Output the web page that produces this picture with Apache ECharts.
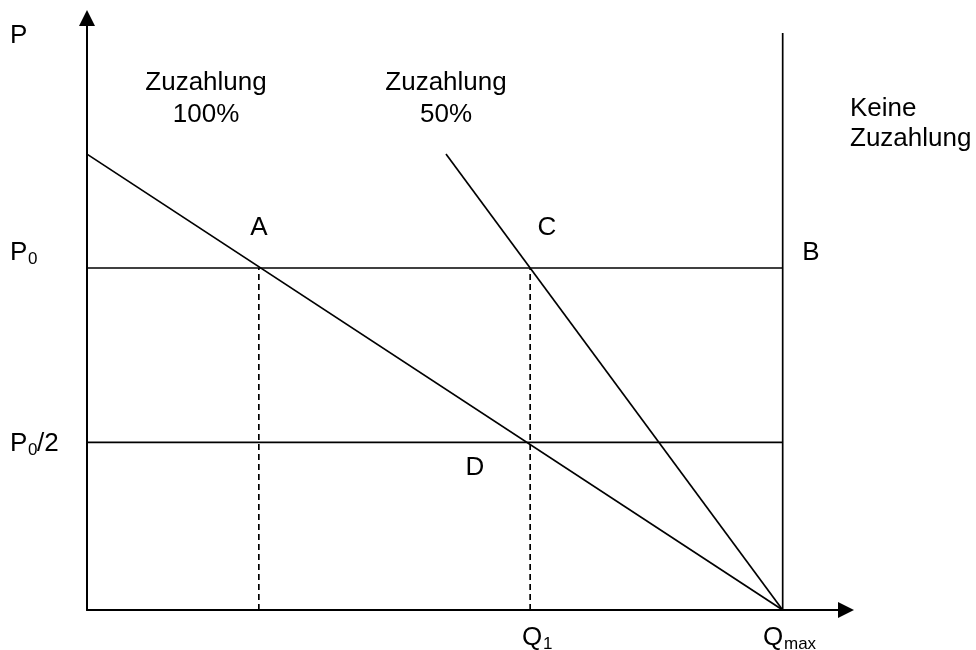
<!DOCTYPE html>
<html>
<head>
<meta charset="utf-8">
<title>Zuzahlung</title>
<script src="https://cdn.jsdelivr.net/npm/echarts@6/dist/echarts.min.js"></script>
<style>
  html, body { margin: 0; padding: 0; background: #fff; }
  #chart { width: 976px; height: 650px; }
</style>
</head>
<body>
<div id="chart"></div>
<script>
// Werte (Q in % von Qmax, P in % von P0)
const qA = 24.7;
const q1 = 63.7;
const qMax = 100;
const p0 = 100;
const pHalf = 49;
const pTop = 133.3;
const qStart50 = 51.6;
const pVertTop = 168.7;

const demand100 = [[0, pTop], [qMax, 0]];
const demand50 = [[qStart50, pTop], [qMax, 0]];
const keineZuzahlung = [[qMax, 0], [qMax, pVertTop]];
const lineP0 = [[0, p0], [qMax, p0]];
const lineHalf = [[0, pHalf], [qMax, pHalf]];
const dashA = [[qA, 0], [qA, p0]];
const dashQ1 = [[q1, 0], [q1, p0]];

const FONT = '"Liberation Sans", Arial, sans-serif';

function txt(text, x, y, size, align) {
  return {
    type: 'text',
    x: x,
    y: y,
    silent: true,
    style: {
      text: text,
      fill: '#000',
      font: size + 'px ' + FONT,
      align: align || 'left',
      verticalAlign: 'middle'
    }
  };
}

function solid(data, width) {
  return {
    type: 'line',
    data: data,
    symbol: 'none',
    silent: true,
    lineStyle: { color: '#000', width: width || 1.7 }
  };
}

function dashed(data) {
  return {
    type: 'line',
    data: data,
    symbol: 'none',
    silent: true,
    lineStyle: { color: '#000', width: 1.7, type: [6, 4] }
  };
}

const chart = echarts.init(document.getElementById('chart'));
chart.setOption({
  animation: false,
  backgroundColor: '#fff',
  grid: { left: 87, right: 130, top: 18, bottom: 40 },
  xAxis: {
    type: 'value',
    min: 0,
    max: 109.1,
    axisLine: {
      lineStyle: { color: '#000', width: 2 },
      symbol: ['none', 'triangle'],
      symbolSize: [16, 16]
    },
    axisTick: { show: false },
    axisLabel: { show: false },
    splitLine: { show: false }
  },
  yAxis: {
    type: 'value',
    min: 0,
    max: 173.1,
    axisLine: {
      show: true,
      lineStyle: { color: '#000', width: 2 },
      symbol: ['none', 'triangle'],
      symbolSize: [16, 16]
    },
    axisTick: { show: false },
    axisLabel: { show: false },
    splitLine: { show: false }
  },
  series: [
    solid(demand100),
    solid(demand50),
    solid(keineZuzahlung),
    solid(lineP0),
    solid(lineHalf),
    dashed(dashA),
    dashed(dashQ1)
  ],
  graphic: [
    txt('P', 10, 36, 26),
    txt('P', 10, 253, 26),
    txt('0', 28, 259, 17),
    txt('P', 10, 444, 26),
    txt('0', 28, 450, 17),
    txt('/2', 37, 444, 26),
    txt('Zuzahlung', 206, 83, 26, 'center'),
    txt('100%', 206, 115, 26, 'center'),
    txt('Zuzahlung', 446, 83, 26, 'center'),
    txt('50%', 446, 115, 26, 'center'),
    txt('Keine', 850, 109, 26),
    txt('Zuzahlung', 850, 139, 26),
    txt('A', 259, 228, 26, 'center'),
    txt('C', 547, 228, 26, 'center'),
    txt('B', 811, 253, 26, 'center'),
    txt('D', 475, 468, 26, 'center'),
    txt('Q', 522, 638, 26),
    txt('1', 543, 644, 17),
    txt('Q', 763, 638, 26),
    txt('max', 784, 644, 17)
  ]
});
</script>
</body>
</html>
